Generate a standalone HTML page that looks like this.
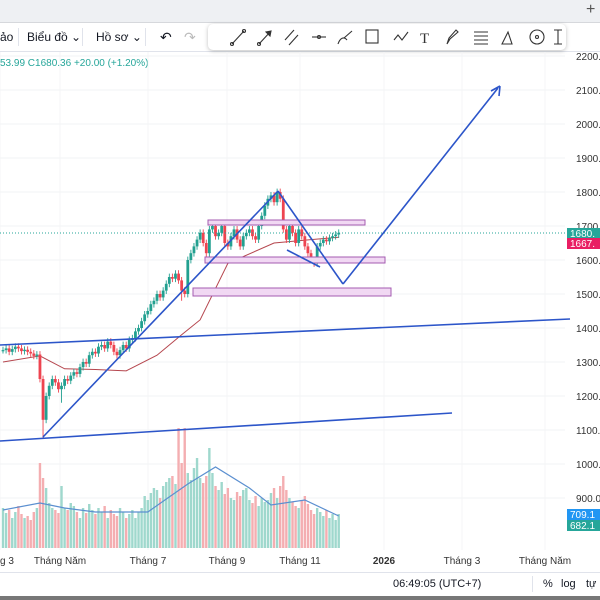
<!DOCTYPE html>
<html><head><meta charset="utf-8"><style>
body{margin:0;width:600px;height:600px;overflow:hidden;background:#fff;font-family:"Liberation Sans","Noto Sans CJK SC",sans-serif;position:relative}
.abs{position:absolute}
.tb{font-size:12px;color:#131722}
</style></head><body>
<div class="abs" style="left:0;top:0;width:600px;height:22px;background:#eef0f3;border-bottom:1px solid #d6d8dc"></div>
<div class="abs" style="left:586px;top:1px;font-size:16px;color:#555">+</div>
<div class="abs" style="left:0;top:23px;width:600px;height:28px;background:#fff;border-bottom:1px solid #e0e3eb"></div>
<div class="abs tb" style="left:0;top:30px">ảo</div>
<div class="abs" style="left:18px;top:28px;width:1px;height:18px;background:#e0e3eb"></div>
<div class="abs tb" style="left:27px;top:30px">Biểu đồ ⌄</div>
<div class="abs" style="left:82px;top:28px;width:1px;height:18px;background:#e0e3eb"></div>
<div class="abs tb" style="left:96px;top:30px">Hồ sơ ⌄</div>
<div class="abs" style="left:145px;top:28px;width:1px;height:18px;background:#e0e3eb"></div>
<div class="abs tb" style="left:160px;top:29px;font-size:14px">↶</div>
<div class="abs tb" style="left:184px;top:29px;font-size:14px;color:#bbb">↷</div>
<div class="abs" style="left:208px;top:24px;width:358px;height:26px;background:#fff;border-radius:5px;box-shadow:0 1px 4px rgba(0,0,0,.25)">
<svg width="358" height="26" stroke="#333" fill="none" stroke-width="1.1">
<g><line x1="24" y1="20" x2="36" y2="7"/><circle cx="24" cy="20" r="1.5"/><circle cx="36" cy="7" r="1.5"/></g>
<g><line x1="51" y1="20" x2="63" y2="7"/><circle cx="51" cy="20" r="1.5"/><path d="M63 7l-5 1 4 4z" fill="#333"/></g>
<g><line x1="77" y1="16" x2="86" y2="6"/><line x1="81" y1="21" x2="90" y2="11"/></g>
<g><line x1="104" y1="13" x2="118" y2="13"/><circle cx="111" cy="13" r="1.5"/></g>
<g><path d="M130 20c2-6 6-8 9-4M136 14l8-7"/></g>
<g><rect x="158" y="6" width="12" height="13"/></g>
<g><path d="M186 16l4-5 4 5 6-8"/></g>
<g><text x="212" y="19" font-size="15" fill="#333" stroke="none" font-family="Liberation Serif">T</text></g>
<g><path d="M239 20l2-6 7-8 2 2-8 7z"/></g>
<g><path d="M266 8h14M266 12h14M266 16h14M266 20h14"/></g>
<g><path d="M294 20l6-12 4 12z"/></g>
<g><circle cx="329" cy="13" r="7"/><circle cx="329" cy="13" r="1.5"/></g>
<g><path d="M346 6h8M350 6v14M346 20h8"/></g>
</svg></div>
<div class="abs" style="left:0;top:58px;font-size:10px;color:#26a69a">53.99 C1680.36 +20.00 (+1.20%)</div>
<svg class="abs" style="left:0;top:0" width="600" height="600" id="chart"></svg>
<div class="abs" style="left:0;top:572px;width:600px;height:24px;border-top:1px solid #e0e3eb;background:#fff"></div>
<div class="abs tb" style="left:393px;top:578px;font-size:11px">06:49:05 (UTC+7)</div>
<div class="abs" style="left:532px;top:576px;width:1px;height:16px;background:#e0e3eb"></div>
<div class="abs tb" style="left:543px;top:578px;font-size:11px">%</div>
<div class="abs tb" style="left:561px;top:578px;font-size:11px">log</div>
<div class="abs tb" style="left:586px;top:578px;font-size:11px">tự</div>
<div class="abs" style="left:0;top:596px;width:600px;height:4px;background:#777"></div>
<script>
const closes=[1335,1340,1330,1338,1345,1340,1332,1336,1330,1325,1318,1322,1250,1130,1200,1230,1250,1240,1220,1230,1250,1245,1260,1270,1265,1285,1300,1295,1320,1330,1325,1345,1350,1340,1360,1350,1330,1320,1335,1350,1340,1365,1370,1390,1400,1420,1440,1450,1470,1480,1500,1490,1510,1530,1550,1545,1560,1540,1510,1500,1600,1620,1640,1660,1680,1650,1620,1690,1700,1670,1680,1700,1650,1640,1670,1690,1660,1640,1670,1680,1690,1670,1660,1700,1730,1760,1780,1790,1770,1800,1780,1690,1660,1700,1680,1650,1690,1670,1640,1620,1600,1590,1640,1650,1660,1655,1665,1670,1675,1680];
const lowSpikes={13:1075,19:1180,58:1480};
const volumes=[40,35,38,30,36,42,34,30,32,28,36,40,85,70,60,45,40,38,35,62,40,38,45,42,36,30,40,35,44,38,34,40,36,42,30,38,34,32,40,36,30,34,38,30,36,40,52,48,55,60,58,50,62,66,70,72,64,120,85,120,75,68,80,90,70,65,72,100,75,62,58,66,54,60,50,48,56,52,58,60,48,45,52,42,50,46,48,55,60,50,62,72,58,50,46,42,40,48,52,44,38,34,40,36,32,38,30,34,28,34];
const maPoints=[[0,1300],[12,1318],[20,1280],[30,1278],[40,1274],[50,1320],[58,1380],[64,1424],[73,1590],[88,1650],[100,1660],[109,1667]];
const volMaPoints=[[0,38],[12,45],[20,40],[30,36],[47,36],[60,64],[69,81],[80,60],[87,43],[98,48],[109,32]];
const priceTicks=[2200,2100,2000,1900,1800,1700,1600,1500,1400,1300,1200,1100,1000,900];
const monthLabels=[["g 3",0],["Tháng Năm",60],["Tháng 7",148],["Tháng 9",227],["Tháng 11",300],["2026",384],["Tháng 3",462],["Tháng Năm",545]];
const NS="http://www.w3.org/2000/svg",svg=document.getElementById('chart');
const y=p=>192+(1800-p)*0.34, x=i=>3+i*3.08, vy=v=>548-v;
function el(t,a,name){const e=document.createElementNS(NS,t);for(const k in a)e.setAttribute(k,a[k]);


svg.appendChild(e);return e;}
priceTicks.forEach(p=>{el('line',{x1:0,x2:565,y1:y(p),y2:y(p),stroke:'#f2f3f5'},'grid-line');
const t=el('text',{x:576,y:y(p)+4,'font-size':10,fill:'#333'},'y-tick-label');t.textContent=p.toFixed(1);});
monthLabels.forEach(m=>{el('line',{x1:m[1],x2:m[1],y1:52,y2:550,stroke:'#f4f5f7'},'v-grid-line');
const t=el('text',{x:m[1],y:564,'font-size':10,fill:'#333','text-anchor':m[0]=="g 3"?'start':'middle','font-weight':m[0]=='2026'?'bold':'normal'},'x-tick-label');t.textContent=m[0];});
volumes.forEach((v,i)=>{const up=closes[i]>=(i?closes[i-1]:closes[i]);
el('rect',{x:x(i)-1.2,y:vy(v),width:2.4,height:v,fill:up?'#9fd8cd':'#f4aeb1'},'volume-bar');});
el('polyline',{points:volMaPoints.map(p=>x(p[0])+','+vy(p[1])).join(' '),fill:'none',stroke:'#5b8fd0','stroke-width':1.2},'volume-ma-line');
el('polyline',{points:maPoints.map(p=>x(p[0])+','+y(p[1])).join(' '),fill:'none',stroke:'#b5464e','stroke-width':1},'moving-average-line');
closes.forEach((c,i)=>{const o=i?closes[i-1]:c,up=c>=o,col=up?'#22a090':'#ee4450';
const hi=Math.max(o,c)+10,lo=lowSpikes[i]||Math.min(o,c)-10;
el('line',{x1:x(i),x2:x(i),y1:y(hi),y2:y(lo),stroke:col,'stroke-width':0.9},'candle-wick');
el('rect',{x:x(i)-1.4,y:y(Math.max(o,c)),width:2.8,height:Math.max(1.2,Math.abs(o-c)*0.34),fill:col},'candle-body');});
[[208,220,157,5],[205,257,180,6],[193,288,198,8]].forEach(r=>el('rect',{x:r[0],y:r[1],width:r[2],height:r[3],fill:'#f1d8f3',stroke:'#a45bb0','stroke-width':1},'support-zone'));
el('line',{x1:0,x2:565,y1:233,y2:233,stroke:'#26a69a','stroke-dasharray':'1 2'},'last-price-line');
const B='#2c55c9';
[[0,345,570,319],[0,441,452,413],[43,437,278,191],[278,191,343,284],[343,284,498,88],[287,250,320,267]].forEach(l=>el('line',{x1:l[0],y1:l[1],x2:l[2],y2:l[3],stroke:B,'stroke-width':1.6},'trend-line'));
el('path',{d:'M500 86l-1 10M500 86l-9 5',stroke:B,'stroke-width':1.6,fill:'none'},'arrow-head');
[[228,'#26a69a','1680.'],[238,'#e91e63','1667.'],[509,'#2196f3','709.1'],[520,'#26a69a','682.1']].forEach(b=>{
el('rect',{x:567,y:b[0],width:33,height:11,fill:b[1]},'price-badge');
const t=el('text',{x:570,y:b[0]+9,'font-size':10,fill:'#fff'},'price-badge-label');t.textContent=b[2];});
</script>
</body></html>
